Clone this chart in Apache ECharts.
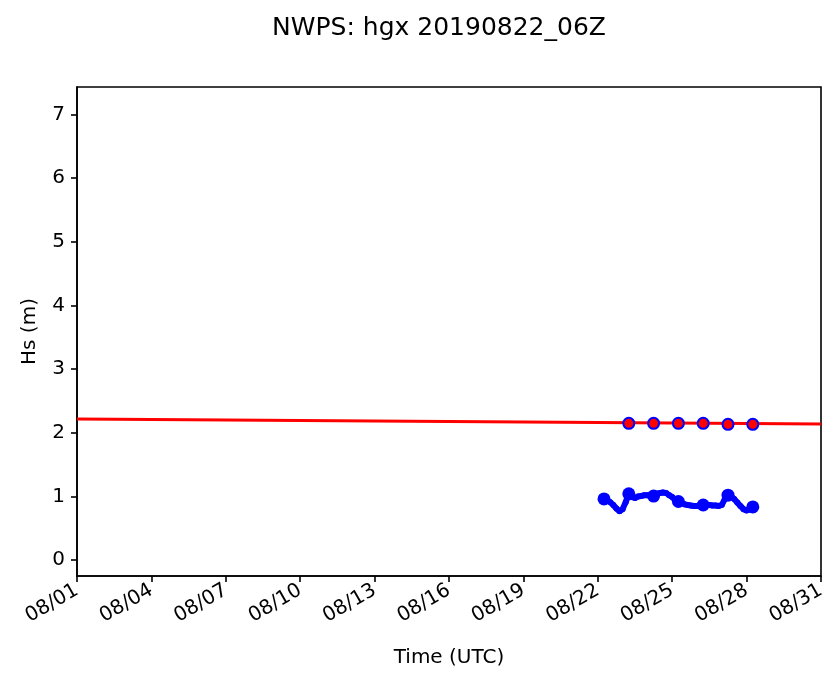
<!DOCTYPE html>
<html><head><meta charset="utf-8">
<script src="https://cdn.jsdelivr.net/npm/echarts@6/dist/echarts.min.js"></script>
<style>html,body{margin:0;padding:0;background:#fff}#c{width:839px;height:681px}</style>
</head><body><div id="c"></div><script>
const titleText = 'NWPS: hgx 20190822_06Z';
const xAxisName = 'Time (UTC)';
const yAxisName = 'Hs (m)';
const xTickDates = ['2019-08-01','2019-08-04','2019-08-07','2019-08-10','2019-08-13','2019-08-16','2019-08-19','2019-08-22','2019-08-25','2019-08-28','2019-08-31'];
const yTicks = [0,1,2,3,4,5,6,7];
const xRange = ['2019-08-01T00:00:00Z','2019-08-31T00:00:00Z'];
const yRange = [-0.25, 7.43];

// Red reference line
const redTimes = ['2019-08-01T00:00:00Z','2019-08-31T00:00:00Z'];
const redValues = [2.215, 2.136];

// Observation markers (red fill, blue edge)
const obsTimes = ['2019-08-23T06:00:00Z','2019-08-24T06:00:00Z','2019-08-25T06:00:00Z','2019-08-26T06:00:00Z','2019-08-27T06:00:00Z','2019-08-28T06:00:00Z'];
const obsValues = [2.148, 2.148, 2.148, 2.148, 2.132, 2.132];

// Blue model series, 3-hourly from 08/22 06Z
const blueStart = '2019-08-22T06:00:00Z';
const blueStepHours = 3;
const blueValues = [0.96,0.94,0.91,0.865,0.81,0.765,0.80,0.91,1.04,0.99,0.975,1.0,1.005,1.02,1.02,1.005,1.005,1.04,1.055,1.06,1.055,1.02,0.99,0.94,0.92,0.895,0.875,0.865,0.857,0.85,0.85,0.85,0.865,0.865,0.865,0.857,0.857,0.85,0.865,0.96,1.02,1.0,0.96,0.905,0.85,0.80,0.78,0.795,0.835];

const T = s => Date.parse(s);
const t0 = T(blueStart);
const blueData = blueValues.map((v, i) => [t0 + i * blueStepHours * 3600e3, v]);
const blueBlobs = blueData.filter(d => new Date(d[0]).getUTCHours() === 6);
const FONT = 'DejaVu Sans';
const pad2 = n => (n < 10 ? '0' : '') + n;
const xTickVals = xTickDates.map(d => T(d + 'T00:00:00Z'));

const chart = echarts.init(document.getElementById('c'), null, {renderer: 'canvas'});
chart.setOption({
  animation: false,
  backgroundColor: '#fff',
  textStyle: {fontFamily: FONT},
  title: {text: titleText, left: 434, top: 11, textAlign: 'center',
    textStyle: {fontFamily: FONT, fontSize: 25, fontWeight: 'normal', color: '#000'}},
  grid: {left: 77, top: 87, right: 18, bottom: 105, show: true, borderColor: '#000', borderWidth: 1.6, containLabel: false},
  xAxis: {
    type: 'value', min: T(xRange[0]), max: T(xRange[1]),
    name: xAxisName, nameLocation: 'middle', nameGap: 72,
    nameTextStyle: {fontFamily: FONT, fontSize: 20, color: '#000'},
    axisLine: {show: true, onZero: false, lineStyle: {color: '#000', width: 1.6}},
    axisTick: {show: true, length: 6, lineStyle: {color: '#000', width: 1.6}, customValues: xTickVals},
    axisLabel: {show: true, rotate: 30, margin: 13, fontFamily: FONT, fontSize: 20, color: '#000',
      customValues: xTickVals,
      formatter: v => { const d = new Date(v); return pad2(d.getUTCMonth() + 1) + '/' + pad2(d.getUTCDate()); }},
    splitLine: {show: false}
  },
  yAxis: {
    type: 'value', min: yRange[0], max: yRange[1],
    name: yAxisName, nameLocation: 'middle', nameGap: 37,
    nameTextStyle: {fontFamily: FONT, fontSize: 20, color: '#000'},
    axisLine: {show: true, lineStyle: {color: '#000', width: 1.6}},
    axisTick: {show: true, length: 6, lineStyle: {color: '#000', width: 1.6}, customValues: yTicks},
    axisLabel: {show: true, margin: 12, fontFamily: FONT, fontSize: 20, color: '#000', customValues: yTicks},
    splitLine: {show: false}
  },
  series: [
    {type: 'line', data: redTimes.map((t, i) => [T(t), redValues[i]]), showSymbol: false, symbol: 'none',
      lineStyle: {color: '#ff0000', width: 3}, z: 2},
    {type: 'line', data: blueData, symbol: 'circle', symbolSize: 6, showSymbol: true,
      itemStyle: {color: '#0000ff', opacity: 1}, lineStyle: {color: '#0000ff', width: 6}, z: 3},
    {type: 'scatter', data: blueBlobs, symbol: 'circle', symbolSize: 13,
      itemStyle: {color: '#0000ff', opacity: 1}, z: 4},
    {type: 'scatter', data: obsTimes.map((t, i) => [T(t), obsValues[i]]), symbol: 'circle', symbolSize: 11,
      itemStyle: {color: '#ff0000', borderColor: '#0000ff', borderWidth: 2, opacity: 1}, z: 5}
  ]
});
</script></body></html>
